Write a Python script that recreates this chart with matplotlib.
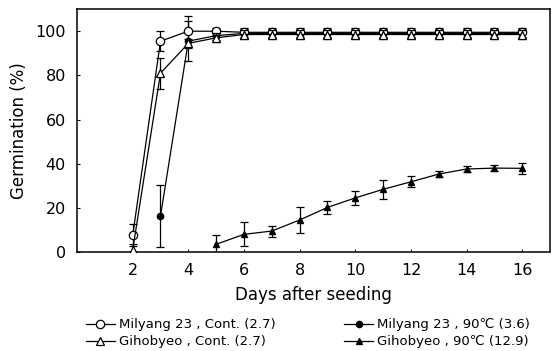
import numpy as np
import matplotlib.pyplot as plt

plt.rcParams['font.family'] = ['DejaVu Sans']

days_all = [2, 3, 4, 5, 6, 7, 8, 9, 10, 11, 12, 13, 14, 15, 16]

# Milyang 23, Cont.
mc_days = days_all
mc_val = [7.5, 95.5, 100, 100, 99.5, 99.5, 99.5, 99.5, 99.5, 99.5, 99.5, 99.5, 99.5, 99.5, 99.5]
mc_err = [5, 4.5, 7, 1.5, 2, 2, 2, 2, 2, 2, 2, 2, 2, 2, 2]

# Gihobyeo, Cont.
gc_days = days_all
gc_val = [1, 81, 94.5, 97, 98.5, 98.5, 98.5, 98.5, 98.5, 98.5, 98.5, 98.5, 98.5, 98.5, 98.5]
gc_err = [2.5, 7, 2, 2, 2, 2, 2, 2, 2, 2, 2, 2, 2, 2, 2]

# Milyang 23, 90C
m9_days = days_all[1:]
m9_val = [16.3, 95.5, 98, 99, 99, 99, 99, 99, 99, 99, 99, 99, 99, 99]
m9_err = [14, 9, 2, 2, 2, 2, 2, 2, 2, 2, 2, 2, 2, 2]

# Gihobyeo, 90C
g9_days = days_all[3:]
g9_val = [3.5, 8, 9.5, 14.5, 20.2, 24.5, 28.4, 31.8, 35.3, 37.6, 38, 37.9]
g9_err = [4, 5.5, 2.5, 6, 3, 3, 4.3, 2.5, 1.5, 1.5, 1.5, 2.5]

labels = ['Milyang 23 , Cont. (2.7)', 'Gihobyeo , Cont. (2.7)',
          'Milyang 23 , 90\u2103 (3.6)', 'Gihobyeo , 90\u2103 (12.9)']

fig = plt.figure(figsize=(5.54, 3.51), dpi=100)
ax = fig.add_axes([0.139, 0.282, 0.854, 0.692])

kw = dict(color='black', ecolor='black', lw=0.9, elinewidth=0.9, capsize=3, capthick=0.9)
h1 = ax.errorbar(mc_days, mc_val, yerr=mc_err, marker='o', ms=6, mfc='white', mec='black', mew=0.9, zorder=4, **kw)
h2 = ax.errorbar(gc_days, gc_val, yerr=gc_err, marker='^', ms=5.5, mfc='white', mec='black', mew=0.9, zorder=5, **kw)
h3 = ax.errorbar(m9_days, m9_val, yerr=m9_err, marker='o', ms=4.5, mfc='black', mec='black', zorder=3, **kw)
h4 = ax.errorbar(g9_days, g9_val, yerr=g9_err, marker='^', ms=5, mfc='black', mec='black', zorder=3, **kw)

ax.set_xlim(0, 17)
ax.set_ylim(0, 110)
ax.set_xticks(np.arange(2, 17, 2))
ax.set_yticks(np.arange(0, 101, 20))
ax.tick_params(direction='in', length=2, labelsize=11.5, pad=8)
for s in ax.spines.values():
    s.set_linewidth(1.1)

ax.set_xlabel('Days after seeding', fontsize=12, labelpad=6)
ax.set_ylabel('Germination (%)', fontsize=12, labelpad=5)

handles = [h1[0], h2[0], h3[0], h4[0]]
fig.legend(handles, labels, ncol=2, loc='lower center', bbox_to_anchor=(0.556, 0.0),
           frameon=False, fontsize=9.5, handlelength=2.2, handletextpad=0.3,
           columnspacing=5.2, labelspacing=0.3, borderaxespad=0.0, borderpad=0.2)

fig.savefig('out.png', dpi=100)
